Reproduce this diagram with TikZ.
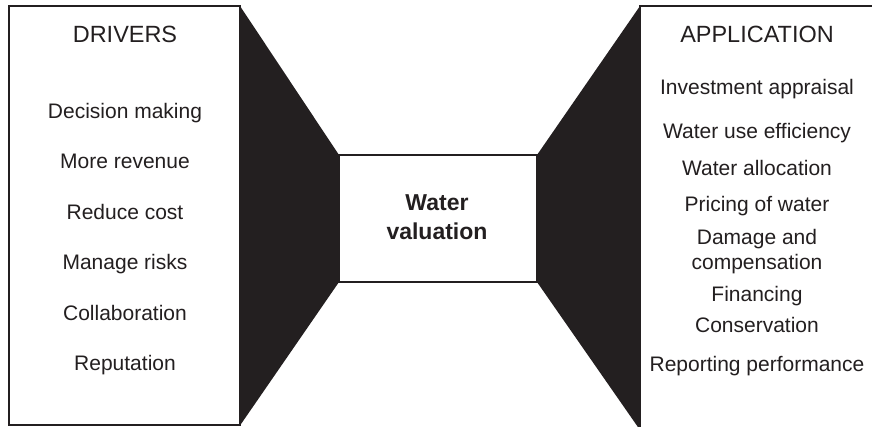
\documentclass[tikz,border=0pt]{standalone}
\usepackage{fontspec}
\setmainfont{Liberation Sans}
\usetikzlibrary{positioning}
\definecolor{ink}{HTML}{231F20}

\tikzset{
  panel/.style={draw=ink, line width=1.5pt, fill=white, inner sep=0pt, outer sep=0pt},
  item/.style={anchor=base, text=ink, inner sep=0pt, font=\fontsize{15.75}{18}\selectfont},
  head/.style={item, font=\fontsize{17.6}{20}\selectfont},
  core/.style={anchor=base, text=ink, inner sep=0pt, font=\bfseries\fontsize{17.25}{20}\selectfont}
}

\begin{document}
\begin{tikzpicture}[x=0.75pt, y=-0.75pt]
  \useasboundingbox (0,0) rectangle (872,426);
  \clip (0,0) rectangle (872,426);
  % the three boxes
  \node[panel, minimum width=172.9pt, minimum height=314.6pt] (drivers) at (124.75,215.75) {};
  \node[panel, minimum width=180pt, minimum height=318pt] (application) at (760,218) {};
  \node[panel, minimum width=148.5pt, minimum height=95.25pt] (valuation) at (438,218.5) {};
  % black funnels
  \fill[ink] (drivers.north east) -- (valuation.north west) -- (valuation.south west) -- (drivers.south east) -- cycle;
  \fill[ink] (application.north west) -- (valuation.north east) -- (valuation.south east) -- (application.south west) -- cycle;
  \draw[ink, line width=1.5pt] (valuation.north west) rectangle (valuation.south east);
  % centre
  \node[core] (water) at (437,210) {Water};
  \node[core] (valtext) at (437,239) {valuation};
  % left column
  \node[head] (drvhead) at (125,42) {DRIVERS};
  \foreach \y/\t [count=\i] in {118/Decision making, 168.5/More revenue, 219/Reduce cost,
      269.5/Manage risks, 320/Collaboration, 370.5/Reputation}
    \node[item] (drv\i) at (125,\y) {\t};
  % right column
  \node[head] (apphead) at (757,42) {APPLICATION};
  \foreach \y/\t [count=\i] in {94/Investment appraisal, 138.5/Water use efficiency,
      175.5/Water allocation, 211/Pricing of water, 244/Damage and, 269/compensation,
      301.5/Financing, 332/Conservation, 371.5/Reporting performance}
    \node[item] (app\i) at (757,\y) {\t};
\end{tikzpicture}
\end{document}
